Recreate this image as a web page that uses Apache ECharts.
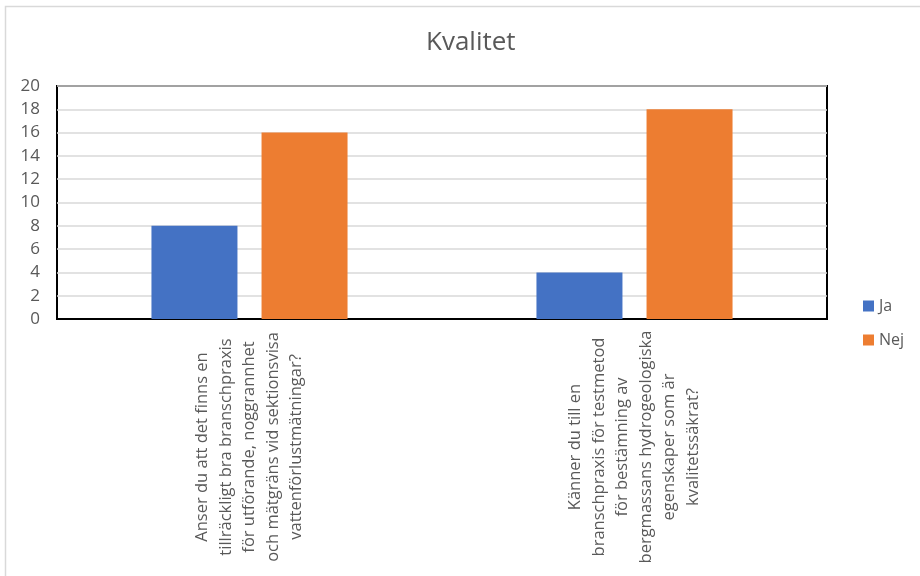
<!DOCTYPE html>
<html>
<head>
<meta charset="utf-8">
<script src="https://cdn.jsdelivr.net/npm/echarts@6/dist/echarts.min.js"></script>
<style>
  html, body { margin: 0; padding: 0; background: #fff; }
  #chart { width: 920px; height: 576px; }
</style>
</head>
<body>
<div id="chart"></div>
<script>
const title = 'Kvalitet';
const categories = [
  'Anser du att det finns en\ntillräckligt bra branschpraxis\nför utförande, noggrannhet\noch mätgräns vid sektionsvisa\nvattenförlustmätningar?',
  'Känner du till en\nbranschpraxis för testmetod\nför bestämning av\nbergmassans hydrogeologiska\negenskaper som är\nkvalitetssäkrat?'
];
const seriesNames = ['Ja', 'Nej'];
const jaValues = [8, 4];
const nejValues = [16, 18];
const yTicks = { min: 0, max: 20, interval: 2 };

const font = '"Open Sans", "Liberation Sans", sans-serif';
const textColor = '#595959';

const chart = echarts.init(document.getElementById('chart'), null, { renderer: 'canvas' });
chart.setOption({
  animation: false,
  backgroundColor: '#ffffff',
  textStyle: { fontFamily: font },
  title: {
    text: title,
    left: 421,
    top: 25,
    textStyle: { fontFamily: font, fontSize: 26, fontWeight: 'normal', color: textColor }
  },
  legend: {
    orient: 'vertical',
    left: 858,
    top: 293,
    itemWidth: 11,
    itemHeight: 11,
    itemGap: 18,
    icon: 'rect',
    textStyle: { fontFamily: font, fontSize: 16, color: textColor },
    data: seriesNames
  },
  grid: {
    left: 57,
    right: 93,
    top: 86,
    bottom: 257,
    show: true,
    borderColor: '#000000',
    borderWidth: 2
  },
  xAxis: {
    type: 'category',
    data: categories,
    axisLine: { show: true, lineStyle: { color: '#000', width: 2 } },
    axisTick: { show: false },
    axisLabel: {
      rotate: 90,
      interval: 0,
      align: 'center',
      verticalAlign: 'middle',
      margin: 128,
      fontFamily: font,
      fontSize: 16.5,
      lineHeight: 23.5,
      color: textColor
    }
  },
  yAxis: {
    type: 'value',
    min: yTicks.min,
    max: yTicks.max,
    interval: yTicks.interval,
    axisLine: { show: false },
    axisTick: { show: false },
    axisLabel: { fontFamily: font, fontSize: 17, color: textColor, margin: 17 },
    splitLine: { lineStyle: { color: '#D9D9D9', width: 1.5 } }
  },
  series: [
    {
      name: seriesNames[0],
      type: 'bar',
      data: jaValues,
      barWidth: 86,
      barGap: '28%',
      itemStyle: { color: '#4472C4' }
    },
    {
      name: seriesNames[1],
      type: 'bar',
      data: nejValues,
      barWidth: 86,
      barGap: '28%',
      itemStyle: { color: '#ED7D31' }
    }
  ],
  graphic: [
    {
      type: 'rect',
      shape: { x: 5.5, y: 6.5, width: 940, height: 600 },
      style: { fill: 'none', stroke: '#D9D9D9', lineWidth: 1.5 },
      silent: true
    }
  ]
});
</script>
</body>
</html>
